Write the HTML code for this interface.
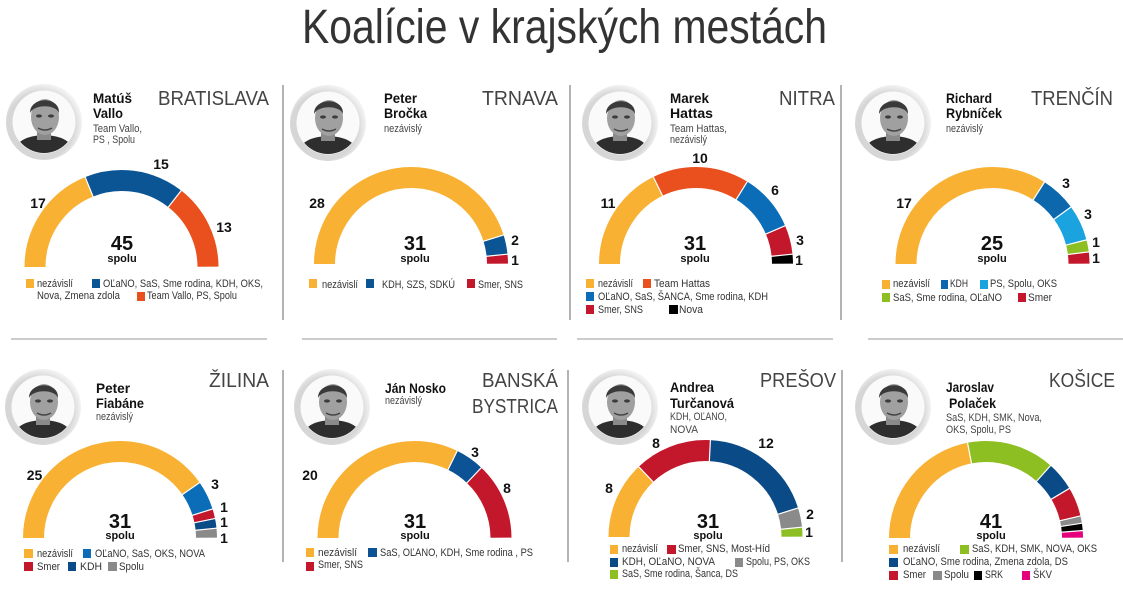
<!DOCTYPE html>
<html><head><meta charset="utf-8">
<style>
html,body{margin:0;padding:0;background:#fff;}
svg{display:block;}
text{font-family:"Liberation Sans",sans-serif;}
.t{font-size:48px;fill:#333;font-family:"Liberation Sans Narrow","Liberation Sans",sans-serif;}
.city{font-size:20px;fill:#444;font-family:"Liberation Sans Narrow","Liberation Sans",sans-serif;}
.nm{font-size:14px;font-weight:bold;fill:#111;}
.sub{font-size:11px;fill:#444;}
.n{font-size:14px;font-weight:bold;fill:#111;text-anchor:middle;}
.tot{font-size:20px;font-weight:bold;fill:#111;text-anchor:middle;}
.sp{font-size:11px;font-weight:bold;fill:#111;text-anchor:middle;}
.lg{font-size:11px;fill:#333;}
.sep{stroke:#9a9a9a;stroke-width:1.5;}
.hl{stroke:#cccccc;stroke-width:2;}
.arc{fill:none;stroke-width:21;}
.wl{stroke:#fff;stroke-width:1.2;}
</style></head>
<body>
<svg width="1123" height="592" viewBox="0 0 1123 592" xmlns="http://www.w3.org/2000/svg">
<defs>
  <radialGradient id="rg" cx="0.45" cy="0.55" r="0.55">
    <stop offset="0.8" stop-color="#d6d6d6"/>
    <stop offset="1" stop-color="#f2f2f2"/>
  </radialGradient>
  <clipPath id="cp"><circle cx="0" cy="0" r="31"/></clipPath>
  <g id="ph">
    <circle cx="0" cy="0" r="38" fill="url(#rg)"/>
    <circle cx="0" cy="0" r="31.5" fill="#fafafa"/>
    <g clip-path="url(#cp)">
      <path d="M-34,40 C-30,18 -18,14 0,13 C18,14 30,18 34,40 Z" fill="#2e2e2e"/>
      <rect x="-7" y="6" width="14" height="12" fill="#8a8a8a"/>
      <ellipse cx="1" cy="-5" rx="14" ry="18" fill="#a0a0a0"/>
      <path d="M-14,-9 C-14,-26 16,-26 15,-9 C12,-18 -10,-18 -14,-9 Z" fill="#3a3a3a"/>
      <ellipse cx="-5" cy="-6" rx="3" ry="1.6" fill="#3c3c3c"/>
      <ellipse cx="7" cy="-6" rx="3" ry="1.6" fill="#3c3c3c"/>
      <path d="M-6,6 Q1,10 8,6" stroke="#444" stroke-width="1.5" fill="none"/>
    </g>
  </g>
</defs>

<!-- Title -->
<text class="t" x="302" y="43" textLength="525" lengthAdjust="spacingAndGlyphs">Koalície v krajských mestách</text>

<!-- separators -->
<line class="sep" x1="283" y1="85" x2="283" y2="320"/>
<line class="sep" x1="570" y1="85" x2="570" y2="320"/>
<line class="sep" x1="841" y1="85" x2="841" y2="320"/>
<line class="sep" x1="283" y1="370" x2="283" y2="562"/>
<line class="sep" x1="568" y1="370" x2="568" y2="562"/>
<line class="sep" x1="842" y1="370" x2="842" y2="562"/>
<line class="hl" x1="11" y1="339" x2="267" y2="339"/>
<line class="hl" x1="302" y1="339" x2="557" y2="339"/>
<line class="hl" x1="577" y1="339" x2="833" y2="339"/>
<line class="hl" x1="868" y1="339" x2="1123" y2="339"/>

<!-- ===== BRATISLAVA ===== -->
<use href="#ph" transform="translate(44,122)"/>
<text class="nm" x="93" y="103" textLength="39" lengthAdjust="spacingAndGlyphs">Matúš</text>
<text class="nm" x="93" y="118" textLength="30" lengthAdjust="spacingAndGlyphs">Vallo</text>
<text class="sub" x="93" y="132" textLength="49" lengthAdjust="spacingAndGlyphs">Team Vallo,</text>
<text class="sub" x="93" y="143" textLength="42" lengthAdjust="spacingAndGlyphs">PS , Spolu</text>
<text class="city" x="158" y="105" textLength="111" lengthAdjust="spacingAndGlyphs">BRATISLAVA</text>
<g>
  <path class="arc" d="M35,267 A86.5,86.5 0 0 1 208,267" pathLength="45" stroke="#F8B133" stroke-dasharray="17 1000" stroke-dashoffset="0"/>
  <path class="arc" d="M35,267 A86.5,86.5 0 0 1 208,267" pathLength="45" stroke="#0C5595" stroke-dasharray="15 1000" stroke-dashoffset="-17"/>
  <path class="arc" d="M35,267 A86.5,86.5 0 0 1 208,267" pathLength="45" stroke="#E9501E" stroke-dasharray="13 1000" stroke-dashoffset="-32"/>
  <line class="wl" x1="46" y1="267" x2="23" y2="267" transform="rotate(68 121.5 267)"/>
  <line class="wl" x1="46" y1="267" x2="23" y2="267" transform="rotate(128 121.5 267)"/>
</g>
<text class="n" x="38" y="208">17</text>
<text class="n" x="161" y="169">15</text>
<text class="n" x="224" y="232">13</text>
<text class="tot" x="122" y="250">45</text>
<text class="sp" x="122" y="262">spolu</text>
<rect x="26" y="279" width="8" height="9" fill="#F8B133"/>
<text class="lg" x="37" y="287" textLength="36" lengthAdjust="spacingAndGlyphs">nezávislí</text>
<rect x="92" y="279" width="8" height="9" fill="#0C5595"/>
<text class="lg" x="103" y="287" textLength="160" lengthAdjust="spacingAndGlyphs">OĽaNO, SaS, Sme rodina, KDH, OKS,</text>
<text class="lg" x="37" y="299" textLength="83" lengthAdjust="spacingAndGlyphs">Nova, Zmena zdola</text>
<rect x="137" y="292" width="8" height="9" fill="#E9501E"/>
<text class="lg" x="147" y="299" textLength="90" lengthAdjust="spacingAndGlyphs">Team Vallo, PS, Spolu</text>

<!-- ===== TRNAVA ===== -->
<use href="#ph" transform="translate(328,123)"/>
<text class="nm" x="384" y="103" textLength="33" lengthAdjust="spacingAndGlyphs">Peter</text>
<text class="nm" x="384" y="118" textLength="43" lengthAdjust="spacingAndGlyphs">Bročka</text>
<text class="sub" x="384" y="132" textLength="38" lengthAdjust="spacingAndGlyphs">nezávislý</text>
<text class="city" x="482" y="105" textLength="76" lengthAdjust="spacingAndGlyphs">TRNAVA</text>
<g>
  <path class="arc" d="M324.5,264 A86.5,86.5 0 0 1 497.5,264" pathLength="31" stroke="#F8B133" stroke-dasharray="28 1000" stroke-dashoffset="0"/>
  <path class="arc" d="M324.5,264 A86.5,86.5 0 0 1 497.5,264" pathLength="31" stroke="#0C5595" stroke-dasharray="2 1000" stroke-dashoffset="-28"/>
  <path class="arc" d="M324.5,264 A86.5,86.5 0 0 1 497.5,264" pathLength="31" stroke="#C3172B" stroke-dasharray="1 1000" stroke-dashoffset="-30"/>
  <line class="wl" x1="336" y1="264" x2="313" y2="264" transform="rotate(162.58 411 264)"/>
  <line class="wl" x1="336" y1="264" x2="313" y2="264" transform="rotate(174.19 411 264)"/>
</g>
<text class="n" x="317" y="208">28</text>
<text class="n" x="515" y="245">2</text>
<text class="n" x="515" y="265">1</text>
<text class="tot" x="415" y="250">31</text>
<text class="sp" x="415" y="262">spolu</text>
<rect x="309" y="279" width="8" height="9" fill="#F8B133"/>
<text class="lg" x="322" y="288" textLength="36" lengthAdjust="spacingAndGlyphs">nezávislí</text>
<rect x="366" y="279" width="8" height="9" fill="#0C5595"/>
<text class="lg" x="382" y="288" textLength="73" lengthAdjust="spacingAndGlyphs">KDH, SZS, SDKÚ</text>
<rect x="467" y="279" width="8" height="9" fill="#C3172B"/>
<text class="lg" x="478" y="288" textLength="45" lengthAdjust="spacingAndGlyphs">Smer, SNS</text>

<!-- ===== NITRA ===== -->
<use href="#ph" transform="translate(620,123)"/>
<text class="nm" x="670" y="103" textLength="39" lengthAdjust="spacingAndGlyphs">Marek</text>
<text class="nm" x="670" y="118" textLength="43" lengthAdjust="spacingAndGlyphs">Hattas</text>
<text class="sub" x="670" y="132" textLength="57" lengthAdjust="spacingAndGlyphs">Team Hattas,</text>
<text class="sub" x="670" y="143" textLength="37" lengthAdjust="spacingAndGlyphs">nezávislý</text>
<text class="city" x="779" y="105" textLength="56" lengthAdjust="spacingAndGlyphs">NITRA</text>
<g>
  <path class="arc" d="M609.5,264 A86.5,86.5 0 0 1 782.5,264" pathLength="31" stroke="#F8B133" stroke-dasharray="11 1000" stroke-dashoffset="0"/>
  <path class="arc" d="M609.5,264 A86.5,86.5 0 0 1 782.5,264" pathLength="31" stroke="#E9501E" stroke-dasharray="10 1000" stroke-dashoffset="-11"/>
  <path class="arc" d="M609.5,264 A86.5,86.5 0 0 1 782.5,264" pathLength="31" stroke="#0B6DB7" stroke-dasharray="6 1000" stroke-dashoffset="-21"/>
  <path class="arc" d="M609.5,264 A86.5,86.5 0 0 1 782.5,264" pathLength="31" stroke="#C3172B" stroke-dasharray="3 1000" stroke-dashoffset="-27"/>
  <path class="arc" d="M609.5,264 A86.5,86.5 0 0 1 782.5,264" pathLength="31" stroke="#000" stroke-dasharray="1 1000" stroke-dashoffset="-30"/>
  <line class="wl" x1="621" y1="264" x2="598" y2="264" transform="rotate(63.87 696 264)"/>
  <line class="wl" x1="621" y1="264" x2="598" y2="264" transform="rotate(121.94 696 264)"/>
  <line class="wl" x1="621" y1="264" x2="598" y2="264" transform="rotate(156.77 696 264)"/>
  <line class="wl" x1="621" y1="264" x2="598" y2="264" transform="rotate(174.19 696 264)"/>
</g>
<text class="n" x="608" y="208">11</text>
<text class="n" x="700" y="163">10</text>
<text class="n" x="775" y="195">6</text>
<text class="n" x="800" y="245">3</text>
<text class="n" x="799" y="265">1</text>
<text class="tot" x="695" y="250">31</text>
<text class="sp" x="695" y="262">spolu</text>
<rect x="586" y="279" width="8" height="9" fill="#F8B133"/>
<text class="lg" x="598" y="287" textLength="35" lengthAdjust="spacingAndGlyphs">nezávislí</text>
<rect x="643" y="279" width="8" height="9" fill="#E9501E"/>
<text class="lg" x="654" y="287" textLength="56" lengthAdjust="spacingAndGlyphs">Team Hattas</text>
<rect x="586" y="292" width="8" height="9" fill="#0B6DB7"/>
<text class="lg" x="598" y="300" textLength="170" lengthAdjust="spacingAndGlyphs">OĽaNO, SaS, ŠANCA, Sme rodina, KDH</text>
<rect x="586" y="305" width="8" height="9" fill="#C3172B"/>
<text class="lg" x="598" y="313" textLength="45" lengthAdjust="spacingAndGlyphs">Smer, SNS</text>
<rect x="669" y="305" width="9" height="9" fill="#000"/>
<text class="lg" x="679" y="313" textLength="24" lengthAdjust="spacingAndGlyphs">Nova</text>

<!-- ===== TRENČÍN ===== -->
<use href="#ph" transform="translate(893,123)"/>
<text class="nm" x="946" y="103" textLength="46" lengthAdjust="spacingAndGlyphs">Richard</text>
<text class="nm" x="946" y="118" textLength="56" lengthAdjust="spacingAndGlyphs">Rybníček</text>
<text class="sub" x="946" y="132" textLength="37" lengthAdjust="spacingAndGlyphs">nezávislý</text>
<text class="city" x="1031" y="105" textLength="82" lengthAdjust="spacingAndGlyphs">TRENČÍN</text>
<g>
  <path class="arc" d="M906,264 A86.5,86.5 0 0 1 1079,264" pathLength="25" stroke="#F8B133" stroke-dasharray="17 1000" stroke-dashoffset="0"/>
  <path class="arc" d="M906,264 A86.5,86.5 0 0 1 1079,264" pathLength="25" stroke="#0D67AD" stroke-dasharray="3 1000" stroke-dashoffset="-17"/>
  <path class="arc" d="M906,264 A86.5,86.5 0 0 1 1079,264" pathLength="25" stroke="#1BA3E0" stroke-dasharray="3 1000" stroke-dashoffset="-20"/>
  <path class="arc" d="M906,264 A86.5,86.5 0 0 1 1079,264" pathLength="25" stroke="#8DBE22" stroke-dasharray="1 1000" stroke-dashoffset="-23"/>
  <path class="arc" d="M906,264 A86.5,86.5 0 0 1 1079,264" pathLength="25" stroke="#C3172B" stroke-dasharray="1 1000" stroke-dashoffset="-24"/>
  <line class="wl" x1="917.5" y1="264" x2="894.5" y2="264" transform="rotate(122.4 992.5 264)"/>
  <line class="wl" x1="917.5" y1="264" x2="894.5" y2="264" transform="rotate(144 992.5 264)"/>
  <line class="wl" x1="917.5" y1="264" x2="894.5" y2="264" transform="rotate(165.6 992.5 264)"/>
  <line class="wl" x1="917.5" y1="264" x2="894.5" y2="264" transform="rotate(172.8 992.5 264)"/>
</g>
<text class="n" x="904" y="208">17</text>
<text class="n" x="1066" y="188">3</text>
<text class="n" x="1088" y="219">3</text>
<text class="n" x="1096" y="247">1</text>
<text class="n" x="1096" y="263">1</text>
<text class="tot" x="992" y="250">25</text>
<text class="sp" x="992" y="262">spolu</text>
<rect x="882" y="280" width="8" height="9" fill="#F8B133"/>
<text class="lg" x="893" y="287" textLength="37" lengthAdjust="spacingAndGlyphs">nezávislí</text>
<rect x="941" y="280" width="7" height="9" fill="#0D67AD"/>
<text class="lg" x="950" y="287" textLength="18" lengthAdjust="spacingAndGlyphs">KDH</text>
<rect x="980" y="280" width="8" height="9" fill="#1BA3E0"/>
<text class="lg" x="990" y="287" textLength="67" lengthAdjust="spacingAndGlyphs">PS, Spolu, OKS</text>
<rect x="882" y="293" width="8" height="9" fill="#8DBE22"/>
<text class="lg" x="893" y="301" textLength="109" lengthAdjust="spacingAndGlyphs">SaS, Sme rodina, OĽaNO</text>
<rect x="1018" y="293" width="8" height="9" fill="#C3172B"/>
<text class="lg" x="1028" y="301" textLength="24" lengthAdjust="spacingAndGlyphs">Smer</text>

<!-- ===== ŽILINA ===== -->
<use href="#ph" transform="translate(43,407)"/>
<text class="nm" x="96" y="393" textLength="34" lengthAdjust="spacingAndGlyphs">Peter</text>
<text class="nm" x="96" y="408" textLength="48" lengthAdjust="spacingAndGlyphs">Fiabáne</text>
<text class="sub" x="96" y="420" textLength="37" lengthAdjust="spacingAndGlyphs">nezávislý</text>
<text class="city" x="209" y="387" textLength="60" lengthAdjust="spacingAndGlyphs">ŽILINA</text>
<g>
  <path class="arc" d="M33.5,538 A86.5,86.5 0 0 1 206.5,538" pathLength="31" stroke="#F8B133" stroke-dasharray="25 1000" stroke-dashoffset="0"/>
  <path class="arc" d="M33.5,538 A86.5,86.5 0 0 1 206.5,538" pathLength="31" stroke="#0B6DB7" stroke-dasharray="3 1000" stroke-dashoffset="-25"/>
  <path class="arc" d="M33.5,538 A86.5,86.5 0 0 1 206.5,538" pathLength="31" stroke="#C3172B" stroke-dasharray="1 1000" stroke-dashoffset="-28"/>
  <path class="arc" d="M33.5,538 A86.5,86.5 0 0 1 206.5,538" pathLength="31" stroke="#0A4A87" stroke-dasharray="1 1000" stroke-dashoffset="-29"/>
  <path class="arc" d="M33.5,538 A86.5,86.5 0 0 1 206.5,538" pathLength="31" stroke="#8A8A8A" stroke-dasharray="1 1000" stroke-dashoffset="-30"/>
  <line class="wl" x1="45" y1="538" x2="22" y2="538" transform="rotate(145.16 120 538)"/>
  <line class="wl" x1="45" y1="538" x2="22" y2="538" transform="rotate(162.58 120 538)"/>
  <line class="wl" x1="45" y1="538" x2="22" y2="538" transform="rotate(168.39 120 538)"/>
  <line class="wl" x1="45" y1="538" x2="22" y2="538" transform="rotate(174.19 120 538)"/>
</g>
<text class="n" x="34.5" y="480">25</text>
<text class="n" x="215" y="489">3</text>
<text class="n" x="224" y="512">1</text>
<text class="n" x="224" y="527">1</text>
<text class="n" x="224" y="543">1</text>
<text class="tot" x="120" y="528">31</text>
<text class="sp" x="120" y="539">spolu</text>
<rect x="24" y="549" width="9" height="9" fill="#F8B133"/>
<text class="lg" x="37" y="557" textLength="36" lengthAdjust="spacingAndGlyphs">nezávislí</text>
<rect x="83" y="549" width="8" height="9" fill="#0B6DB7"/>
<text class="lg" x="95" y="557" textLength="110" lengthAdjust="spacingAndGlyphs">OĽaNO, SaS, OKS, NOVA</text>
<rect x="24" y="562" width="9" height="9" fill="#C3172B"/>
<text class="lg" x="37" y="570" textLength="23" lengthAdjust="spacingAndGlyphs">Smer</text>
<rect x="68" y="562" width="8" height="9" fill="#0A4A87"/>
<text class="lg" x="80" y="570" textLength="22" lengthAdjust="spacingAndGlyphs">KDH</text>
<rect x="108" y="562" width="9" height="9" fill="#8A8A8A"/>
<text class="lg" x="119" y="570" textLength="25" lengthAdjust="spacingAndGlyphs">Spolu</text>

<!-- ===== BANSKÁ BYSTRICA ===== -->
<use href="#ph" transform="translate(332,407)"/>
<text class="nm" x="385" y="393" textLength="61" lengthAdjust="spacingAndGlyphs">Ján Nosko</text>
<text class="sub" x="385" y="404" textLength="37" lengthAdjust="spacingAndGlyphs">nezávislý</text>
<text class="city" x="482" y="387" textLength="76" lengthAdjust="spacingAndGlyphs">BANSKÁ</text>
<text class="city" x="472" y="413" textLength="86" lengthAdjust="spacingAndGlyphs">BYSTRICA</text>
<g>
  <path class="arc" d="M328,538 A86.5,86.5 0 0 1 501,538" pathLength="31" stroke="#F8B133" stroke-dasharray="20 1000" stroke-dashoffset="0"/>
  <path class="arc" d="M328,538 A86.5,86.5 0 0 1 501,538" pathLength="31" stroke="#0B5394" stroke-dasharray="3 1000" stroke-dashoffset="-20"/>
  <path class="arc" d="M328,538 A86.5,86.5 0 0 1 501,538" pathLength="31" stroke="#C3172B" stroke-dasharray="8 1000" stroke-dashoffset="-23"/>
  <line class="wl" x1="339.5" y1="538" x2="316.5" y2="538" transform="rotate(116.13 414.5 538)"/>
  <line class="wl" x1="339.5" y1="538" x2="316.5" y2="538" transform="rotate(133.55 414.5 538)"/>
</g>
<text class="n" x="310" y="480">20</text>
<text class="n" x="475" y="457">3</text>
<text class="n" x="507" y="493">8</text>
<text class="tot" x="415" y="528">31</text>
<text class="sp" x="415" y="539">spolu</text>
<rect x="306" y="548" width="8" height="9" fill="#F8B133"/>
<text class="lg" x="318" y="556" textLength="39" lengthAdjust="spacingAndGlyphs">nezávislí</text>
<rect x="368" y="548" width="9" height="9" fill="#0B5394"/>
<text class="lg" x="380" y="556" textLength="153" lengthAdjust="spacingAndGlyphs">SaS, OĽANO, KDH, Sme rodina , PS</text>
<rect x="306" y="562" width="8" height="9" fill="#C3172B"/>
<text class="lg" x="318" y="568" textLength="45" lengthAdjust="spacingAndGlyphs">Smer, SNS</text>

<!-- ===== PREŠOV ===== -->
<use href="#ph" transform="translate(620,407)"/>
<text class="nm" x="670" y="392" textLength="44" lengthAdjust="spacingAndGlyphs">Andrea</text>
<text class="nm" x="670" y="408" textLength="64" lengthAdjust="spacingAndGlyphs">Turčanová</text>
<text class="sub" x="670" y="420" textLength="57" lengthAdjust="spacingAndGlyphs">KDH, OĽANO,</text>
<text class="sub" x="670" y="433" textLength="28" lengthAdjust="spacingAndGlyphs">NOVA</text>
<text class="city" x="760" y="387" textLength="76" lengthAdjust="spacingAndGlyphs">PREŠOV</text>
<g>
  <path class="arc" d="M619,537 A86.5,86.5 0 0 1 792,537" pathLength="31" stroke="#F8B133" stroke-dasharray="8 1000" stroke-dashoffset="0"/>
  <path class="arc" d="M619,537 A86.5,86.5 0 0 1 792,537" pathLength="31" stroke="#C3172B" stroke-dasharray="8 1000" stroke-dashoffset="-8"/>
  <path class="arc" d="M619,537 A86.5,86.5 0 0 1 792,537" pathLength="31" stroke="#0A4A87" stroke-dasharray="12 1000" stroke-dashoffset="-16"/>
  <path class="arc" d="M619,537 A86.5,86.5 0 0 1 792,537" pathLength="31" stroke="#8A8A8A" stroke-dasharray="2 1000" stroke-dashoffset="-28"/>
  <path class="arc" d="M619,537 A86.5,86.5 0 0 1 792,537" pathLength="31" stroke="#8DBE22" stroke-dasharray="1 1000" stroke-dashoffset="-30"/>
  <line class="wl" x1="630.5" y1="537" x2="607.5" y2="537" transform="rotate(46.45 705.5 537)"/>
  <line class="wl" x1="630.5" y1="537" x2="607.5" y2="537" transform="rotate(92.9 705.5 537)"/>
  <line class="wl" x1="630.5" y1="537" x2="607.5" y2="537" transform="rotate(162.58 705.5 537)"/>
  <line class="wl" x1="630.5" y1="537" x2="607.5" y2="537" transform="rotate(174.19 705.5 537)"/>
</g>
<text class="n" x="609" y="493">8</text>
<text class="n" x="656" y="448">8</text>
<text class="n" x="766" y="448">12</text>
<text class="n" x="810" y="519">2</text>
<text class="n" x="809" y="537">1</text>
<text class="tot" x="708" y="528">31</text>
<text class="sp" x="708" y="539">spolu</text>
<rect x="610" y="545" width="8" height="9" fill="#F8B133"/>
<text class="lg" x="622" y="552" textLength="36" lengthAdjust="spacingAndGlyphs">nezávislí</text>
<rect x="667" y="545" width="9" height="9" fill="#C3172B"/>
<text class="lg" x="678" y="552" textLength="92" lengthAdjust="spacingAndGlyphs">Smer, SNS, Most-Híd</text>
<rect x="610" y="558" width="8" height="9" fill="#0A4A87"/>
<text class="lg" x="622" y="565" textLength="93" lengthAdjust="spacingAndGlyphs">KDH, OĽaNO, NOVA</text>
<rect x="735" y="558" width="8" height="9" fill="#8A8A8A"/>
<text class="lg" x="746" y="565" textLength="64" lengthAdjust="spacingAndGlyphs">Spolu, PS, OKS</text>
<rect x="610" y="570" width="8" height="9" fill="#8DBE22"/>
<text class="lg" x="622" y="577" textLength="116" lengthAdjust="spacingAndGlyphs">SaS, Sme rodina, Šanca, DS</text>

<!-- ===== KOŠICE ===== -->
<use href="#ph" transform="translate(893,407)"/>
<text class="nm" x="946" y="392" textLength="48" lengthAdjust="spacingAndGlyphs">Jaroslav</text>
<text class="nm" x="949" y="408" textLength="47" lengthAdjust="spacingAndGlyphs">Polaček</text>
<text class="sub" x="946" y="421" textLength="96" lengthAdjust="spacingAndGlyphs">SaS, KDH, SMK, Nova,</text>
<text class="sub" x="946" y="433" textLength="65" lengthAdjust="spacingAndGlyphs">OKS, Spolu, PS</text>
<text class="city" x="1049" y="387" textLength="66" lengthAdjust="spacingAndGlyphs">KOŠICE</text>
<g>
  <path class="arc" d="M899.5,538 A86.5,86.5 0 0 1 1072.5,538" pathLength="41" stroke="#F8B133" stroke-dasharray="18 1000" stroke-dashoffset="0"/>
  <path class="arc" d="M899.5,538 A86.5,86.5 0 0 1 1072.5,538" pathLength="41" stroke="#8DBE22" stroke-dasharray="12 1000" stroke-dashoffset="-18"/>
  <path class="arc" d="M899.5,538 A86.5,86.5 0 0 1 1072.5,538" pathLength="41" stroke="#0A4A87" stroke-dasharray="4 1000" stroke-dashoffset="-30"/>
  <path class="arc" d="M899.5,538 A86.5,86.5 0 0 1 1072.5,538" pathLength="41" stroke="#C3172B" stroke-dasharray="4 1000" stroke-dashoffset="-34"/>
  <path class="arc" d="M899.5,538 A86.5,86.5 0 0 1 1072.5,538" pathLength="41" stroke="#8A8A8A" stroke-dasharray="1 1000" stroke-dashoffset="-38"/>
  <path class="arc" d="M899.5,538 A86.5,86.5 0 0 1 1072.5,538" pathLength="41" stroke="#000" stroke-dasharray="1 1000" stroke-dashoffset="-39"/>
  <path class="arc" d="M899.5,538 A86.5,86.5 0 0 1 1072.5,538" pathLength="41" stroke="#E5007D" stroke-dasharray="1 1000" stroke-dashoffset="-40"/>
  <line class="wl" x1="911" y1="538" x2="888" y2="538" transform="rotate(79.02 986 538)"/>
  <line class="wl" x1="911" y1="538" x2="888" y2="538" transform="rotate(131.71 986 538)"/>
  <line class="wl" x1="911" y1="538" x2="888" y2="538" transform="rotate(149.27 986 538)"/>
  <line class="wl" x1="911" y1="538" x2="888" y2="538" transform="rotate(166.83 986 538)"/>
  <line class="wl" x1="911" y1="538" x2="888" y2="538" transform="rotate(171.22 986 538)"/>
  <line class="wl" x1="911" y1="538" x2="888" y2="538" transform="rotate(175.61 986 538)"/>
</g>
<text class="tot" x="991" y="528">41</text>
<text class="sp" x="991" y="539">spolu</text>
<rect x="889" y="545" width="9" height="9" fill="#F8B133"/>
<text class="lg" x="903" y="552" textLength="37" lengthAdjust="spacingAndGlyphs">nezávislí</text>
<rect x="960" y="545" width="9" height="9" fill="#8DBE22"/>
<text class="lg" x="972" y="552" textLength="125" lengthAdjust="spacingAndGlyphs">SaS, KDH, SMK, NOVA, OKS</text>
<rect x="889" y="558" width="9" height="9" fill="#0A4A87"/>
<text class="lg" x="903" y="565" textLength="165" lengthAdjust="spacingAndGlyphs">OĽaNO, Sme rodina, Zmena zdola, DS</text>
<rect x="889" y="571" width="9" height="9" fill="#C3172B"/>
<text class="lg" x="903" y="578" textLength="23" lengthAdjust="spacingAndGlyphs">Smer</text>
<rect x="933" y="571" width="9" height="9" fill="#8A8A8A"/>
<text class="lg" x="944" y="578" textLength="25" lengthAdjust="spacingAndGlyphs">Spolu</text>
<rect x="974" y="571" width="8" height="9" fill="#000"/>
<text class="lg" x="985" y="578" textLength="18" lengthAdjust="spacingAndGlyphs">SRK</text>
<rect x="1022" y="571" width="8" height="9" fill="#E5007D"/>
<text class="lg" x="1033" y="578" textLength="19" lengthAdjust="spacingAndGlyphs">ŠKV</text>
</svg>
</body></html>
